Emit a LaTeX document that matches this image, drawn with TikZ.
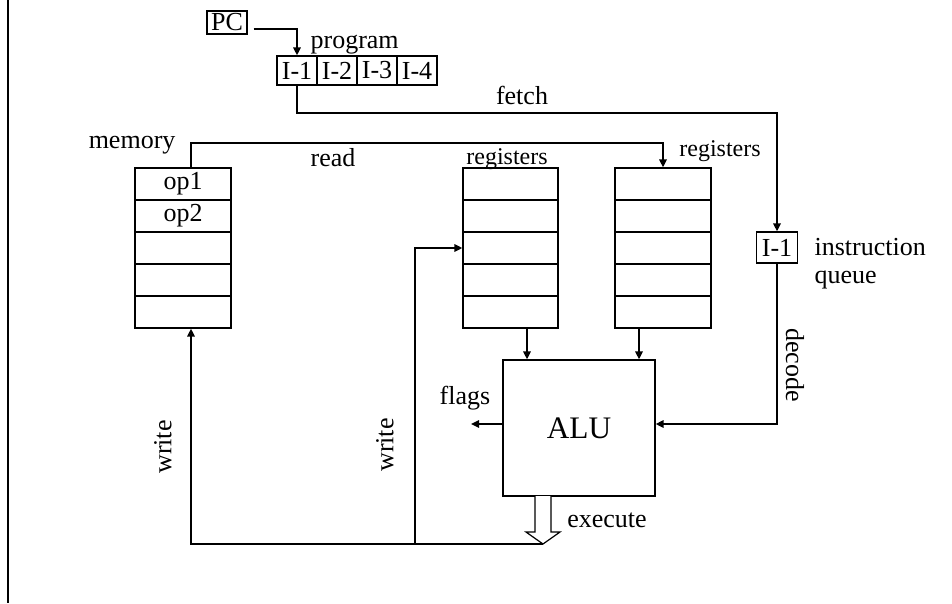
\documentclass[tikz,border=0pt]{standalone}
\usepackage{fontspec}
\setmainfont{Liberation Serif}
\usetikzlibrary{arrows.meta}
\begin{document}
\begin{tikzpicture}[x=0.75pt,y=-0.75pt,
  box/.style={draw, line width=0.9pt, inner sep=0pt, font=\fontsize{19.5}{23}\selectfont},
  conn/.style={line width=1.5pt},
  arr/.style={conn, -{Triangle[length=6pt,width=5.5pt]}},
  lbl/.style={font=\fontsize{19.5}{23}\selectfont, inner sep=1pt},
  slbl/.style={font=\fontsize{18}{21}\selectfont, inner sep=1pt},
  membox/.style={box, minimum width=72pt, minimum height=24pt},
  reg1box/.style={box, minimum width=71.25pt, minimum height=24pt},
  reg2box/.style={box, minimum width=72pt, minimum height=24pt},
  ibox/.style={box, minimum width=30pt, minimum height=21.75pt},
]
\useasboundingbox (0,0) rectangle (952,603);
\draw[line width=1.5pt] (8,0) -- (8,603);

% PC and program
\node[box, minimum width=30pt, minimum height=17.25pt] (pc) at (227,22.5) {PC};
\node[ibox] (i1) at (297,70.5) {I-1};
\node[ibox] (i2) at (337,70.5) {I-2};
\node[ibox] (i3) at (377,70.5) {I-3};
\node[ibox] (i4) at (417,70.5) {I-4};
\node[lbl, anchor=base west] (prog) at (309,48) {program};

% memory
\foreach \k in {1,...,5} {
  \node[membox] (m\k) at (183,{152+32*\k}) {};
}
\node[lbl] at (m1) {op1};
\node[lbl] at (m2) {op2};
\node[lbl, anchor=east] (memlbl) at (177,145) {memory};

% registers
\foreach \k in {1,...,5} {
  \node[reg1box] (ra\k) at (510.5,{152+32*\k}) {};
  \node[reg2box] (rb\k) at (663,{152+32*\k}) {};
}
\node[slbl] (reglbl1) at (507,159) {registers};
\node[slbl] (reglbl2) at (720,151) {registers};

% ALU
\node[box, minimum width=114pt, minimum height=102pt, font=\fontsize{23.5}{28}\selectfont] (alu) at (579,428) {ALU};

% instruction queue
\node[box, minimum width=30.75pt, minimum height=23.25pt] (q) at (777,247.5) {I-1};
\node[lbl, anchor=west] (ql1) at (813,247) {instruction};
\node[lbl, anchor=west] (ql2) at (813,280) {queue};

% helper coordinates
\coordinate (memx) at (191,0);
\coordinate (rax) at (527,0);
\coordinate (rbx) at (639,0);
\coordinate (fl) at (471,424);
\coordinate (tip) at (543,544);
\coordinate (wj) at (415,544);

% connectors
\draw[arr] ([shift={(6,6.5)}]pc.east) -| (i1.north);
\draw[arr] (i1.south) -- ++(0,27) -| (q.north);
\draw[arr] (m1.north -| memx) -- ++(0,-24) -| (rb1.north);
\draw[arr] (ra5.south -| rax) -- (alu.north -| rax);
\draw[arr] (rb5.south -| rbx) -- (alu.north -| rbx);
\draw[arr] (alu.west |- fl) -- (fl);
\draw[arr] (q.south) |- (alu.east |- fl);
\draw[arr] (tip) -| (m5.south -| memx);
\draw[arr] (wj) |- (ra3.west);

% execute fat arrow
\draw[line width=0.9pt, fill=white] (535,496) -- (535,532) -- (526,532) -- (tip) -- (560,532) -- (551,532) -- (551,496);

% labels
\node[lbl] (fetchlbl) at (522,95) {fetch};
\node[lbl] (readlbl) at (333,158) {read};
\node[lbl, rotate=-90] (declbl) at (795,365) {decode};
\node[lbl] (flagslbl) at (465,398) {flags};
\node[lbl] (exelbl) at (607,520) {execute};
\node[lbl, rotate=90] (w1) at (163,447) {write};
\node[lbl, rotate=90] (w2) at (385,445) {write};
\end{tikzpicture}
\end{document}
